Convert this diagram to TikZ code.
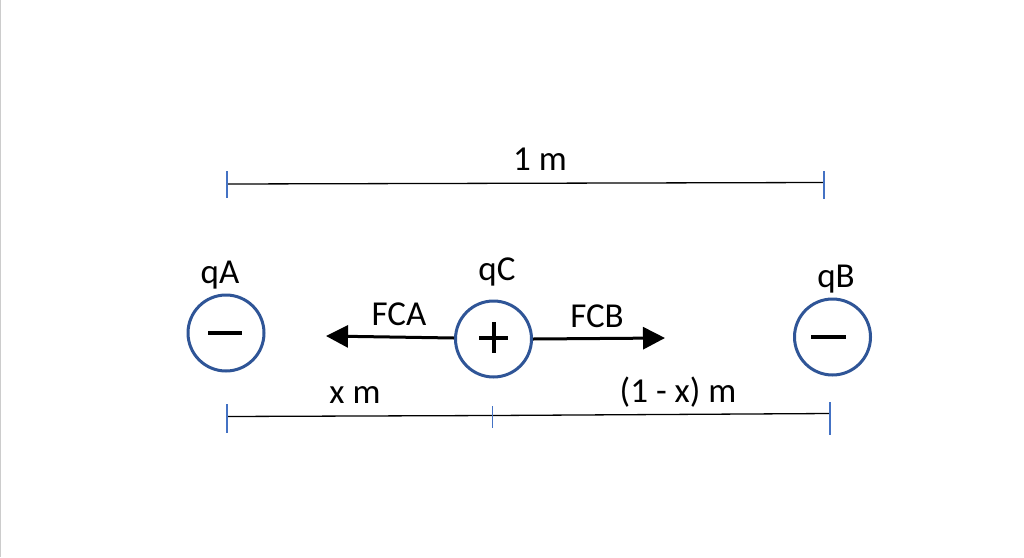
\documentclass[tikz,border=0pt]{standalone}
\usepackage{fontspec}
\setmainfont{Carlito}
\usetikzlibrary{arrows.meta}
\definecolor{ringblue}{HTML}{2F5597}
\definecolor{tickblue}{HTML}{4472C4}
\begin{document}
\begin{tikzpicture}[x=1pt,y=-1pt,
  charge/.style={circle,draw=ringblue,line width=3pt,minimum size=76pt,inner sep=0pt},
  sign/.style={line width=4.5pt},
  dimline/.style={line width=1.3pt,black},
  tickmark/.style={line width=1.5pt,tickblue},
  force/.style={line width=3pt,-{Triangle[length=22pt,width=22pt]}},
  lbl/.style={anchor=base,font=\fontsize{35}{40}\selectfont,inner sep=0pt}]
\useasboundingbox (0,0) rectangle (1024,557);
\fill[white] (0,0) rectangle (1024,557);
\draw[line width=1pt,black!20] (0.5,0) -- (0.5,557);

% top dimension
\coordinate (t1) at (227,184);
\coordinate (t2) at (824,182.5);
\draw[dimline] (t1) -- (t2);
\draw[tickmark] (227,171) -- (227,198);
\draw[tickmark] (824,171) -- (824,199);
\node[lbl] (onem) at (540,170) {1 m};

% charges
\node[charge] (A) at (226,333) {};
\node[charge] (C) at (493.5,339) {};
\node[charge] (B) at (832.5,337) {};
\draw[sign] (208,333) -- (242,333);
\draw[sign] (479,338) -- (508,338);
\draw[sign] (494,322) -- (494,353);
\draw[sign] (811,337) -- (846,337);

\node[lbl] (qA) at (220,283) {qA};
\node[lbl] (qC) at (497,280) {qC};
\node[lbl] (qB) at (836,287) {qB};

% forces
\coordinate (fa) at (326,336);
\coordinate (fb) at (665,338);
\draw[force] (C.west |- 0,338) -- (fa);
\draw[force] (C.east |- 0,339) -- (fb);
\node[lbl] (FCA) at (399,325) {FCA};
\node[lbl] (FCB) at (597,327) {FCB};

% bottom dimension
\coordinate (b1) at (227,416.5);
\coordinate (b2) at (492.5,415.5);
\coordinate (b3) at (830,413.5);
\draw[dimline] (b1) -- (b2) -- (b3);
\draw[tickmark] (227,404) -- (227,433);
\draw[tickmark] (492.5,406) -- (492.5,428);
\draw[tickmark] (830,402) -- (830,435);
\node[lbl] (xm) at (355,403) {x m};
\node[lbl] (oxm) at (678,402) {(1 - x) m};
\end{tikzpicture}
\end{document}
